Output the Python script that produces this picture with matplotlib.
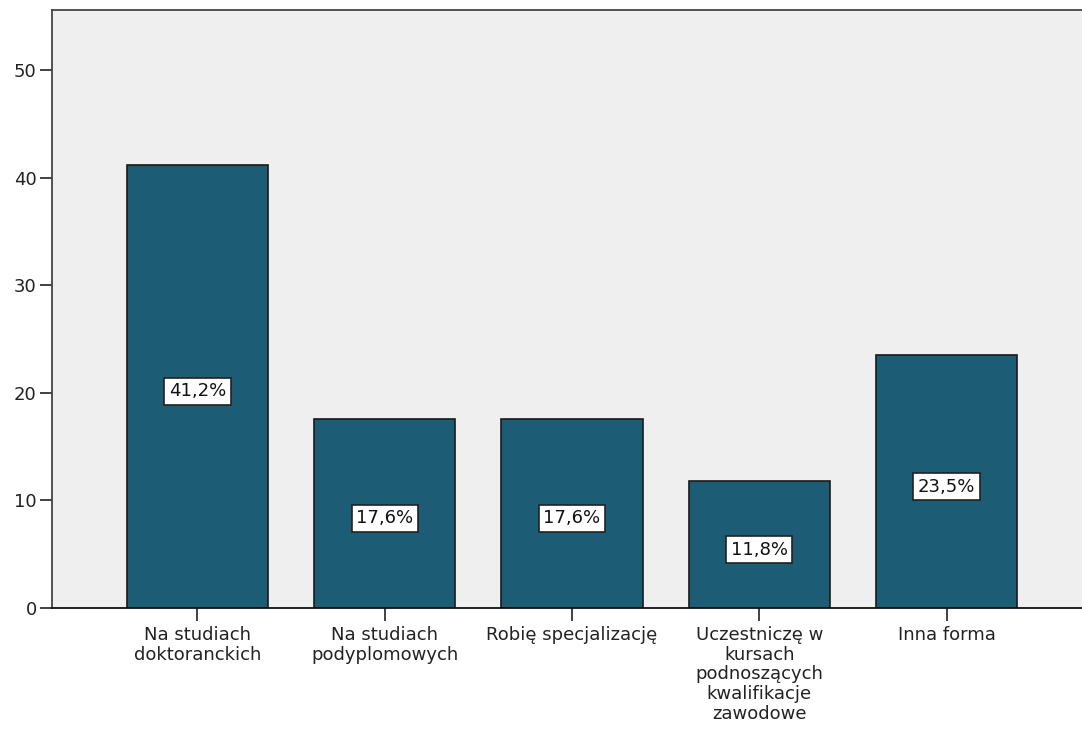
import matplotlib.pyplot as plt

categories = ['Na studiach\ndoktoranckich', 'Na studiach\npodyplomowych', 'Robię specjalizację',
              'Uczestniczę w\nkursach\npodnoszących\nkwalifikacje\nzawodowe', 'Inna forma']
percents = [41.2, 17.6, 17.6, 11.8, 23.5]
yticks = [0, 10, 20, 30, 40, 50]

plt.rcParams['font.family'] = ['DejaVu Sans']

fig = plt.figure(figsize=(10.82, 7.31), dpi=100)
# axes runs slightly past the right edge of the picture, as in the original
ax = fig.add_axes([52/1082, 1 - 608/731, 1040/1082, 598/731])
ax.set_facecolor('#efefef')

x = range(len(categories))
ax.bar(x, percents, width=0.753, color='#1c5c74', edgecolor='#1a1a1a', linewidth=1.2, zorder=2)

for i, v in enumerate(percents):
    ax.annotate(str(v).replace('.', ',') + '%', (i, v / 2), xytext=(0, -5), textcoords='offset pixels',
                ha='center', va='center', fontsize=13, color='#111111', zorder=3,
                bbox=dict(boxstyle='square,pad=0.25', facecolor='white', edgecolor='#222222', linewidth=1.2))

ax.set_xlim(-0.777, 4.777)
ax.set_ylim(0, 55.6)
ax.set_yticks(yticks)
ax.set_yticklabels([str(t) for t in yticks], fontsize=13, color='#222222')
ax.set_xticks(list(x))
ax.set_xticklabels(categories, fontsize=13, color='#222222', linespacing=1.12)

ax.tick_params(axis='both', direction='out', length=9, width=1.3, color='#333333', pad=2)
ax.tick_params(axis='x', pad=4)
ax.spines['right'].set_visible(False)
ax.spines['left'].set_color('#444444')
ax.spines['top'].set_color('#444444')
ax.spines['bottom'].set_color('#111111')
for s in ['left', 'top', 'bottom']:
    ax.spines[s].set_linewidth(1.3)

fig.savefig('out.png', dpi=100, facecolor='white')
